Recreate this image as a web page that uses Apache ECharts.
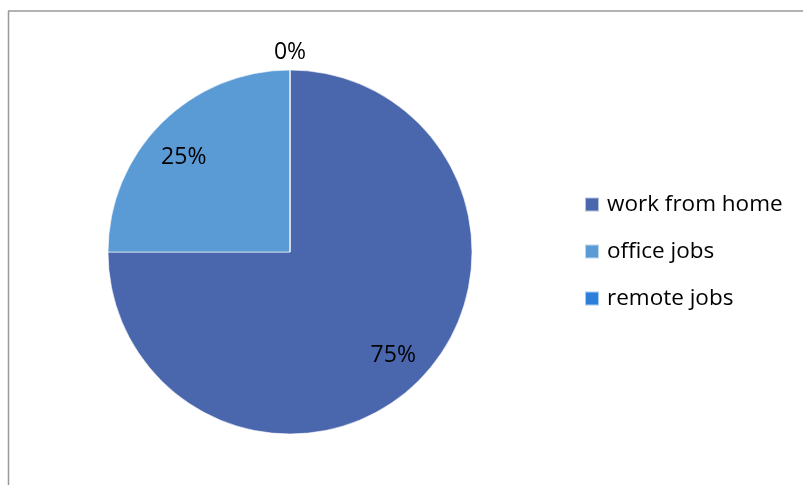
<!DOCTYPE html>
<html>
<head>
<meta charset="utf-8">
<script src="https://cdn.jsdelivr.net/npm/echarts@6/dist/echarts.min.js"></script>
<style>
  html, body { margin: 0; padding: 0; background: #fff; }
  #chart { width: 803px; height: 485px; }
</style>
</head>
<body>
<div id="chart"></div>
<script>
const categories = ['work from home', 'office jobs', 'remote jobs']
const values = [75, 25, 0]
const colors = ['#4A66AC', '#5B9BD5', '#2B7FD8']

const chart = echarts.init(document.getElementById('chart'))
const font = 'Open Sans'

const pieData = categories.map((name, i) => ({ name, value: values[i] }))
const total = values.reduce((a, b) => a + b, 0)
const pct = p => Math.round(p.value / total * 100) + '%'

const option = {
  animation: false,
  color: colors,
  graphic: [
    { type: 'line', shape: { x1: 8, y1: 11, x2: 803, y2: 11 }, style: { stroke: '#999', lineWidth: 1.5 } },
    { type: 'line', shape: { x1: 8.5, y1: 11, x2: 8.5, y2: 485 }, style: { stroke: '#999', lineWidth: 1.5 } }
  ],
  legend: {
    orient: 'vertical',
    left: 584,
    top: 193,
    padding: 0,
    itemWidth: 14,
    itemHeight: 14,
    itemGap: 24,
    icon: 'rect',
    data: categories,
    textStyle: { fontFamily: font, fontSize: 22.5, color: '#000', padding: [0, 0, 0, 3] }
  },
  series: [
    {
      // the visible pie
      type: 'pie',
      center: [290, 252],
      radius: [0, 182],
      startAngle: 90,
      clockwise: true,
      label: { show: false },
      labelLine: { show: false },
      itemStyle: { borderColor: 'rgba(255,255,255,0.6)', borderWidth: 1 },
      emphasis: { disabled: true },
      data: pieData
    },
    {
      // transparent overlay just for the inner percentage labels
      type: 'pie',
      center: [290, 252],
      radius: [0, 286],
      startAngle: 90,
      silent: true,
      legendHoverLink: false,
      itemStyle: { color: 'transparent' },
      labelLine: { show: false },
      label: {
        show: true,
        position: 'inside',
        fontFamily: font,
        fontSize: 23,
        color: '#000',
        formatter: p => p.value > 0 ? pct(p) : ''
      },
      labelLayout: p => p.dataIndex === 1 ? { dx: -3, dy: 9 } : {},
      emphasis: { disabled: true },
      data: pieData
    },
    {
      // overlay for the zero slice label above the pie
      type: 'pie',
      center: [290, 252],
      radius: [0, 394],
      startAngle: 90,
      silent: true,
      legendHoverLink: false,
      itemStyle: { color: 'transparent' },
      labelLine: { show: false },
      label: {
        show: true,
        position: 'inside',
        fontFamily: font,
        fontSize: 23,
        color: '#000',
        formatter: p => p.value === 0 ? pct(p) : ''
      },
      emphasis: { disabled: true },
      data: pieData
    }
  ]
}

chart.setOption(option)
</script>
</body>
</html>
